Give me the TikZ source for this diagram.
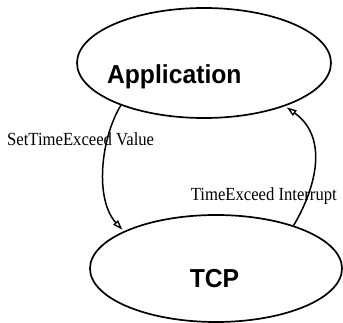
\documentclass[tikz,border=0pt]{standalone}
\usepackage{fontspec}
\usetikzlibrary{shapes.geometric,arrows.meta}
\newfontfamily\namefont[FakeStretch=0.95]{Liberation Sans}
\newfontfamily\lblfont[FakeStretch=0.9]{Liberation Serif}
\tikzset{
  proc/.style={draw, ellipse, line width=1.7pt, inner sep=0pt},
  procname/.style={font=\namefont\bfseries\fontsize{26}{30}\selectfont, inner sep=0pt, anchor=base},
  msg/.style={font=\lblfont\fontsize{18.5}{22}\selectfont, inner sep=0pt},
  flow/.style={line width=1.5pt, shorten >=2pt, -{Triangle[open, length=10pt, width=6.5pt, line width=1.4pt]}}
}
\begin{document}
\begin{tikzpicture}[x=1pt,y=-1pt]
\useasboundingbox (0,0) rectangle (343,323);
\node[proc, minimum width=254pt, minimum height=110pt] (app) at (204,63) {};
\node[proc, minimum width=252pt, minimum height=107pt] (tcp) at (216,268.5) {};
\node[procname] (applbl) at (174.3,83.5) {Application};
\node[procname] (tcplbl) at (214.5,288) {TCP};
\draw[flow] (app.207.6) .. controls (100,140) and (95,200) .. (tcp.158.1);
\draw[flow] (tcp.29.4) .. controls (312,195) and (332,140) .. (app.332.1);
\node[msg, anchor=base west] (setlbl) at (7,146) {SetTimeExceed Value};
\node[msg, anchor=base east] (intlbl) at (337,200.7) {TimeExceed Interrupt};
\end{tikzpicture}
\end{document}
